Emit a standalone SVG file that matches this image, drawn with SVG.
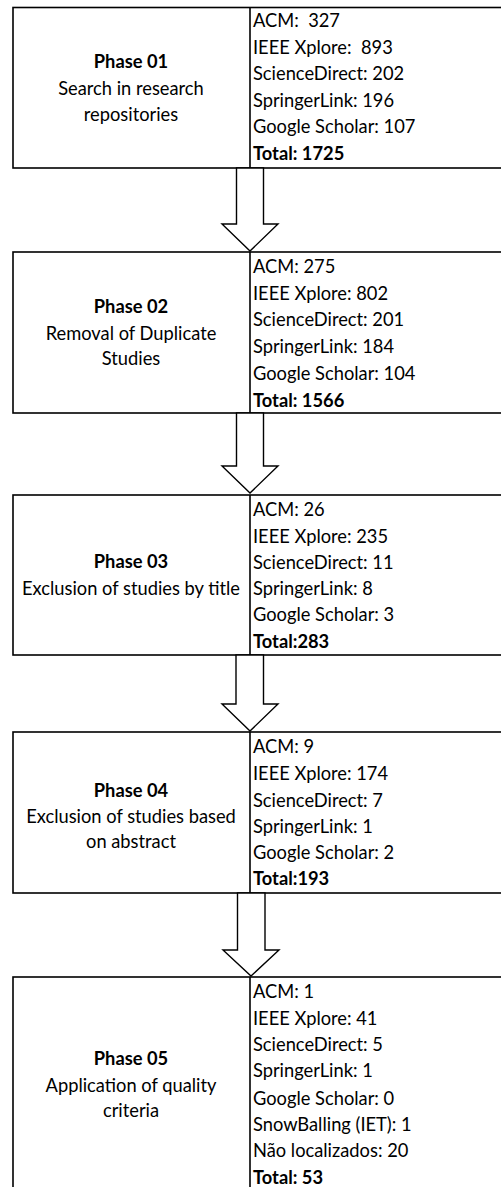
<svg xmlns="http://www.w3.org/2000/svg" width="501" height="1187" viewBox="0 0 501 1187">
<style>
.box{fill:#fff;stroke:#000;stroke-width:1.6}
.div{stroke:#000;stroke-width:1.6}
.arr{fill:#fff;stroke:#000;stroke-width:1.4;stroke-linejoin:miter}
text{font-family:Lato,"Liberation Sans",sans-serif;font-size:18.3px;fill:#000;white-space:pre}
.c{text-anchor:middle}
.b{font-weight:bold}
</style>
<rect width="501" height="1187" fill="#fff"/>
<g id="phase01">
<rect class="box" x="13" y="7.5" width="500" height="160.5"/>
<line class="div" x1="250" y1="7.5" x2="250" y2="168"/>
<text class="c b" x="131" y="68">Phase 01</text>
<text class="c" x="131" y="95">Search in research</text>
<text class="c" x="131" y="121">repositories</text>
<text x="253" y="27" xml:space="preserve">ACM:  327</text>
<text x="253" y="53.5" xml:space="preserve">IEEE Xplore:  893</text>
<text x="253" y="80">ScienceDirect: 202</text>
<text x="253" y="107">SpringerLink: 196</text>
<text x="253" y="133">Google Scholar: 107</text>
<text class="b" x="253" y="160">Total: 1725</text>
</g>
<g id="phase02">
<rect class="box" x="13" y="252" width="500" height="161"/>
<line class="div" x1="250" y1="252" x2="250" y2="413"/>
<text class="c b" x="131" y="313">Phase 02</text>
<text class="c" x="131" y="340">Removal of Duplicate</text>
<text class="c" x="131" y="365">Studies</text>
<text x="253" y="273">ACM: 275</text>
<text x="253" y="300">IEEE Xplore: 802</text>
<text x="253" y="326">ScienceDirect: 201</text>
<text x="253" y="353">SpringerLink: 184</text>
<text x="253" y="380">Google Scholar: 104</text>
<text class="b" x="253" y="407">Total: 1566</text>
</g>
<g id="phase03">
<rect class="box" x="13" y="495" width="500" height="160"/>
<line class="div" x1="250" y1="495" x2="250" y2="655"/>
<text class="c b" x="131" y="568">Phase 03</text>
<text class="c" x="131" y="595">Exclusion of studies by title</text>
<text x="253" y="516">ACM: 26</text>
<text x="253" y="543">IEEE Xplore: 235</text>
<text x="253" y="569">ScienceDirect: 11</text>
<text x="253" y="595">SpringerLink: 8</text>
<text x="253" y="621">Google Scholar: 3</text>
<text class="b" x="253" y="648">Total:283</text>
</g>
<g id="phase04">
<rect class="box" x="13" y="732" width="500" height="161"/>
<line class="div" x1="250" y1="732" x2="250" y2="893"/>
<text class="c b" x="131" y="797">Phase 04</text>
<text class="c" x="131" y="823">Exclusion of studies based</text>
<text class="c" x="131" y="848">on abstract</text>
<text x="253" y="753">ACM: 9</text>
<text x="253" y="780">IEEE Xplore: 174</text>
<text x="253" y="807">ScienceDirect: 7</text>
<text x="253" y="833">SpringerLink: 1</text>
<text x="253" y="859">Google Scholar: 2</text>
<text class="b" x="253" y="885">Total:193</text>
</g>
<g id="phase05">
<rect class="box" x="13" y="977" width="500" height="230"/>
<line class="div" x1="250" y1="977" x2="250" y2="1187"/>
<text class="c b" x="131" y="1065">Phase 05</text>
<text class="c" x="131" y="1092">Application of quality</text>
<text class="c" x="131" y="1117">criteria</text>
<text x="253" y="998">ACM: 1</text>
<text x="253" y="1025">IEEE Xplore: 41</text>
<text x="253" y="1051">ScienceDirect: 5</text>
<text x="253" y="1077">SpringerLink: 1</text>
<text x="253" y="1105">Google Scholar: 0</text>
<text x="253" y="1131">SnowBalling (IET): 1</text>
<text x="253" y="1157">Não localizados: 20</text>
<text class="b" x="253" y="1184">Total: 53</text>
</g>
<g id="connectors">
<polygon class="arr" points="236.5,168 263.5,168 263.5,224 278,224 250,251 222,224 236.5,224"/>
<polygon class="arr" points="236.5,413 263.5,413 263.5,466 278,466 250,493 222,466 236.5,466"/>
<polygon class="arr" points="236,655 263.5,655 263.5,704 278,704 250,731 222,704 236,704"/>
<polygon class="arr" points="237.5,893 265,893 265,950 279,950 251,976 223,950 237.5,950"/>
</g>
</svg>
